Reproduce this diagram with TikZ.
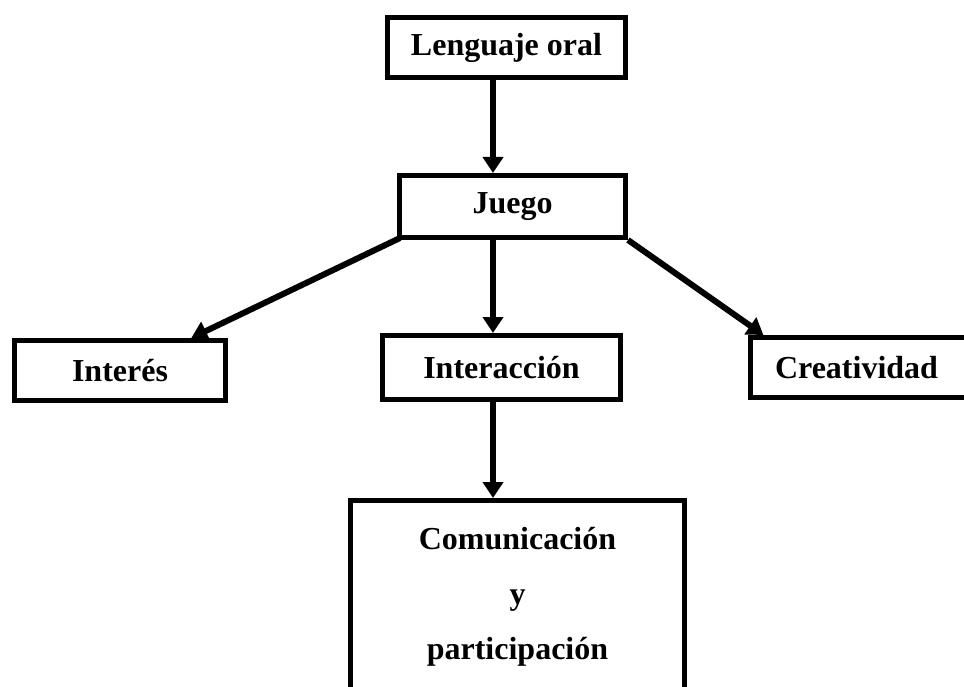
\documentclass[tikz,border=0pt]{standalone}
\usepackage{fontspec}
\setmainfont{Liberation Serif}
\usetikzlibrary{arrows.meta,calc}

\begin{document}
\begin{tikzpicture}[
        x=1pt, y=-1pt,
        every node/.style={draw, line width=5pt, inner sep=0pt, align=center,
            font=\bfseries\fontsize{32}{55}\selectfont},
        caja/.style 2 args={minimum width=#1, minimum height=#2},
        flecha/.style={draw, line width=6pt, -{Triangle[length=16pt,width=20pt]}}
        ]
    \useasboundingbox (0,0) rectangle (964,687);
    \node[caja={238pt}{60pt}] (lenguaje) at (506.5,47.5) {Lenguaje oral};
    \node[caja={226pt}{62pt}] (juego) at (512.5,206.5) {Juego};
    \node[caja={211pt}{60pt}] (interes) at (120,370.5) {Interés};
    \node[caja={238pt}{64pt}] (interaccion) at (501.5,367.5) {Interacción};
    \node[caja={232pt}{60pt}] (creatividad) at (866.5,367.5) {Creatividad\hspace*{20pt}};
    \node[caja={334pt}{193pt}] (comunicacion) at (517.5,597) {Comunicación\\y\\participación};
    \coordinate (eje) at (493,0);

    \draw[flecha] (lenguaje.south -| eje) -- (juego.north -| eje);
    \draw[flecha] (juego.south -| eje) -- (interaccion.north -| eje);
    \draw[flecha] (interaccion.south -| eje) -- (comunicacion.north -| eje);
    \draw[flecha] ($(juego.south west)+(3,-2)$) -- ($(interes.north west)!0.83!(interes.north east)$);
    \draw[flecha] (juego.south east) -- ($(creatividad.north west)!0.065!(creatividad.north east)$);
\end{tikzpicture}
\end{document}
